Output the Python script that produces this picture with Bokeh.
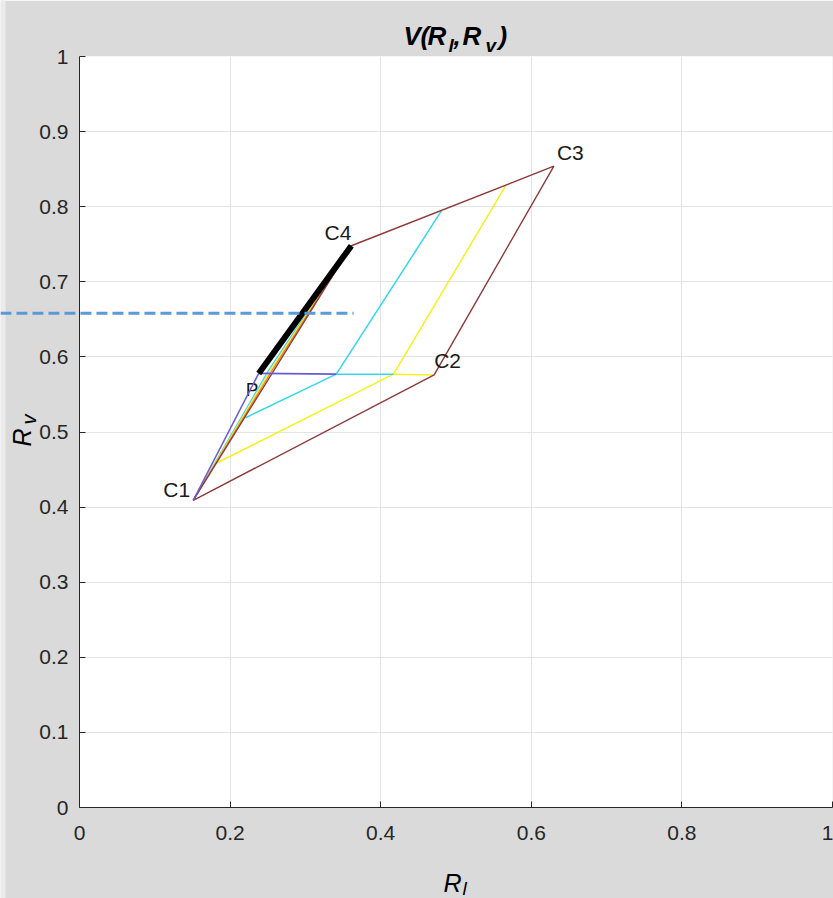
import math

from bokeh.core.properties import value
from bokeh.embed import file_html
from bokeh.models import FixedTicker, GridBox, Label, Range1d
from bokeh.plotting import figure
from bokeh.resources import INLINE

# Corner points of the (R_l, R_v) region
corner_names = ["C1", "C2", "C3", "C4"]
corner_rl = [0.151, 0.471, 0.630, 0.361]
corner_rv = [0.409, 0.576, 0.854, 0.748]

# Point P on the lower boundary
p_name = "P"
p_rl = 0.238
p_rv = 0.578

# Level lines: point on the C1-C4 edge, point on R_v = const, point on the C4-C3 edge
yellow_rl = [0.183, 0.417, 0.566]
yellow_rv = [0.459, 0.577, 0.828]
cyan_rl = [0.2205, 0.341, 0.481]
cyan_rv = [0.519, 0.577, 0.795]

# Curves running from C1 to C4 (middle sample point of each)
edge_mid_orange = (0.2543, 0.5796)
edge_mid_yellow = (0.2526, 0.5806)
edge_mid_cyan = (0.2509, 0.5817)

# Reference level marked by the dashed line
ref_rl = [-0.105, 0.364]
ref_rv = [0.658, 0.658]

x_ticks = [0, 0.2, 0.4, 0.6, 0.8, 1]
x_tick_labels = ["0", "0.2", "0.4", "0.6", "0.8", "1"]
y_ticks = [0, 0.1, 0.2, 0.3, 0.4, 0.5, 0.6, 0.7, 0.8, 0.9, 1]
y_tick_labels = ["0", "0.1", "0.2", "0.3", "0.4", "0.5", "0.6", "0.7", "0.8", "0.9", "1"]

BROWN = "#8f3a3a"
YELLOW = "#f6f020"
CYAN = "#36d6ee"
BLUE = "#6a5ad6"
ORANGE = "#f08020"
INK = "#262626"
FONT = "Liberation Sans"

W, H = 833, 898
LEFT, RIGHT, TOP, BOTTOM = 79, 1, 56, 91
FRAME_W = W - LEFT - RIGHT
FRAME_H = H - TOP - BOTTOM

p = figure(
    width=W,
    height=H,
    x_range=Range1d(0, 1),
    y_range=Range1d(0, 1),
    output_backend="svg",
    toolbar_location=None,
    min_border_left=LEFT,
    min_border_right=RIGHT,
    min_border_top=TOP,
    min_border_bottom=BOTTOM,
    background_fill_color="white",
    border_fill_color="#dadada",
    outline_line_color=None,
)

# Axes: MATLAB-like inward ticks, no minor ticks
for ax, ticks, labels in ((p.xaxis[0], x_ticks, x_tick_labels), (p.yaxis[0], y_ticks, y_tick_labels)):
    ax.ticker = FixedTicker(ticks=ticks)
    ax.major_label_overrides = dict(zip(ticks, labels))
    ax.axis_line_color = INK
    ax.axis_line_width = 1
    ax.major_tick_line_color = INK
    ax.major_tick_in = 6
    ax.major_tick_out = 0
    ax.minor_tick_line_color = None
    ax.major_label_text_font = FONT
    ax.major_label_text_font_size = "21px"
    ax.major_label_text_color = INK
p.xaxis.major_label_standoff = 18
p.yaxis.major_label_standoff = 11

p.xgrid.ticker = FixedTicker(ticks=x_ticks)
p.ygrid.ticker = FixedTicker(ticks=y_ticks)
p.grid.grid_line_color = "#e4e4e4"
p.grid.grid_line_width = 1

c1 = (corner_rl[0], corner_rv[0])
c2 = (corner_rl[1], corner_rv[1])
c4 = (corner_rl[3], corner_rv[3])

# Curves along the C1-C4 edge
p.line([c1[0], edge_mid_cyan[0], c4[0]], [c1[1], edge_mid_cyan[1], c4[1]], line_color=CYAN, line_width=1.3)
p.line([c1[0], edge_mid_yellow[0], c4[0]], [c1[1], edge_mid_yellow[1], c4[1]], line_color=YELLOW, line_width=1.3)
p.line([c1[0], edge_mid_orange[0], c4[0]], [c1[1], edge_mid_orange[1], c4[1]], line_color=ORANGE, line_width=1.3)

# Yellow level
p.line(yellow_rl, yellow_rv, line_color=YELLOW, line_width=1.5)
p.line([yellow_rl[1], c2[0]], [yellow_rv[1], c2[1]], line_color=YELLOW, line_width=1.5)

# Cyan level
p.line(cyan_rl, cyan_rv, line_color=CYAN, line_width=1.5)
p.line([cyan_rl[1], yellow_rl[1]], [cyan_rv[1], yellow_rv[1]], line_color=CYAN, line_width=1.5)

# Outer boundary C1-C2-C3-C4-C1
p.line(corner_rl + corner_rl[:1], corner_rv + corner_rv[:1], line_color=BROWN, line_width=1.4)

# Blue: C1 -> P and P along R_v = const
p.line([c1[0], p_rl], [c1[1], p_rv], line_color=BLUE, line_width=1.5)
p.line([p_rl, cyan_rl[1]], [p_rv, cyan_rv[1]], line_color=BLUE, line_width=1.8)

# Thick black: P -> C4
p.line([p_rl, c4[0]], [p_rv, c4[1]], line_color="black", line_width=6)

# Point labels
label_offsets = {"C1": (-3, 11, "right"), "C2": (0, 14, "left"), "C3": (3, 14, "left"), "C4": (0, 13, "right")}
for name, rl, rv in zip(corner_names, corner_rl, corner_rv):
    dx, dy, align = label_offsets[name]
    p.add_layout(Label(x=rl, y=rv, text=name, x_offset=dx, y_offset=dy, text_align=align,
                       text_baseline="middle", text_font=FONT, text_font_size="21px",
                       text_color="#1a1a1a"))
p.add_layout(Label(x=p_rl, y=p_rv, text=p_name, x_offset=-13, y_offset=-16, text_align="left",
                   text_baseline="middle", text_font=FONT, text_font_size="19px",
                   text_color="#1a1a1a", level="underlay"))

# Transparent overlay spanning the whole canvas, with the same data scale as the axes
# above, for the title, the axis labels and the dashed reference line.
ov = figure(
    width=W,
    height=H,
    x_range=Range1d(-LEFT / FRAME_W, (W - LEFT) / FRAME_W),
    y_range=Range1d(-BOTTOM / FRAME_H, (H - BOTTOM) / FRAME_H),
    x_axis_location=None,
    y_axis_location=None,
    min_border=0,
    output_backend="svg",
    toolbar_location=None,
    background_fill_color=None,
    border_fill_color=None,
    outline_line_color=None,
)
ov.grid.visible = False

# Keep each plot's own frame (no frame alignment between the two stacked plots)
for fig in (p, ov):
    if hasattr(fig, "frame_align"):
        fig.frame_align = False


def at(px, py):
    """Canvas pixel position -> data coordinates of the axes."""
    return (px - LEFT) / FRAME_W, (H - BOTTOM - py) / FRAME_H


# Light strip along the left edge of the figure window
x0, y0 = at(0, H)
x1, y1 = at(5, 0)
ov.quad(left=[x0], right=[x1], bottom=[y0], top=[y1], fill_color="#ebebeb", line_color=None)

ov.line(ref_rl, ref_rv, line_color="#5b9bd5", line_width=3, line_dash="11 5")


def put_text(pieces, size, style, angle=0.0, align="left"):
    xs, ys, texts = [], [], []
    for txt, px, py in pieces:
        x, y = at(px, py)
        xs.append(x)
        ys.append(y)
        texts.append(txt)
    ov.text(x=xs, y=ys, text=texts, angle=angle, text_align=align, text_baseline="alphabetic",
            text_font=value(FONT), text_font_size=value(size), text_font_style=style,
            text_color="black")


# Title V(R_l,R_v)
put_text([("V", 403, 35), ("(", 420, 35), ("R", 427, 35), (",", 453, 35), ("R", 462, 35), (")", 498, 35)],
         "26px", "bold italic")
put_text([("l", 448, 45), ("v", 485, 45)], "19px", "bold italic")

# x-axis label R_l
put_text([("R", 443, 882)], "25px", "italic")
put_text([("l", 462, 888)], "19px", "italic")

# y-axis label R_v (rotated)
put_text([("R", 21, 437)], "25px", "italic", angle=math.pi / 2, align="center")
put_text([("v", 28, 419)], "20px", "italic", angle=math.pi / 2, align="center")

layout = GridBox(children=[(p, 0, 0), (ov, 0, 0)])

open("out.html", "w").write(file_html(layout, INLINE))
